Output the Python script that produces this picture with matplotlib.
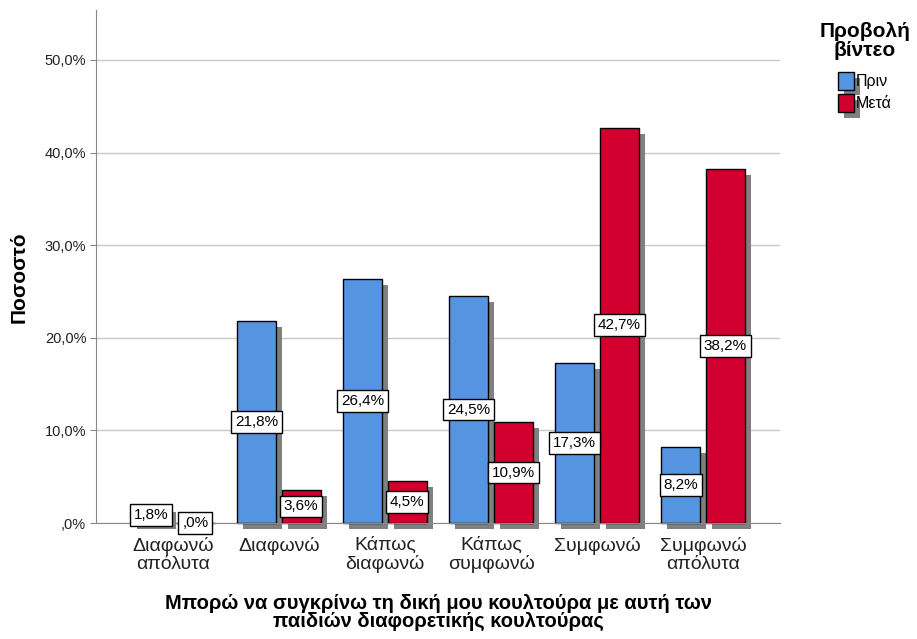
import matplotlib
matplotlib.use("Agg")
import matplotlib.pyplot as plt
import matplotlib.patheffects as pe
import numpy as np

plt.rcParams['font.family'] = ['Liberation Sans', 'DejaVu Sans']

categories = ['Διαφωνώ\nαπόλυτα', 'Διαφωνώ', 'Κάπως\nδιαφωνώ',
              'Κάπως\nσυμφωνώ', 'Συμφωνώ', 'Συμφωνώ\nαπόλυτα']
before = [1.8, 21.8, 26.4, 24.5, 17.3, 8.2]   # Πριν
after = [0.0, 3.6, 4.5, 10.9, 42.7, 38.2]     # Μετά
series_names = ['Πριν', 'Μετά']
colors = ['#5594E0', '#D2002F']

fig = plt.figure(figsize=(9.17, 6.39), dpi=100)
ax = fig.add_axes([0.1047, 0.1815, 0.7459, 0.8029])

x = np.arange(len(categories))
offset = 0.21
width = 0.37

shadow = [pe.SimplePatchShadow(offset=(4.3, -4.3), shadow_rgbFace='#808080', alpha=1.0),
          pe.Normal()]

for vals, off, col, name in zip([before, after], [-offset, offset], colors, series_names):
    bars = ax.bar(x + off, vals, width, color=col, edgecolor='black', linewidth=1,
                  label=name, zorder=3)
    for b, v in zip(bars, vals):
        b.set_path_effects(shadow)
        b.set_clip_on(False)
        ax.text(b.get_x() + b.get_width() / 2, v / 2, f'{v:.1f}%'.replace('.', ',').lstrip('0'),
                ha='center', va='center', fontsize=11, zorder=5,
                bbox=dict(boxstyle='square,pad=0.25', fc='white', ec='black', lw=1))

# άξονες
ax.set_xlim(-0.726, 5.726)
ax.set_ylim(0, 55.4)
ax.set_yticks(np.arange(0, 51, 10))
ax.set_yticklabels([',0%', '10,0%', '20,0%', '30,0%', '40,0%', '50,0%'], fontsize=10.5, color='#222222')
ax.set_xticks(x)
ax.set_xticklabels(categories, fontsize=14, color='#222222', linespacing=1.05)
ax.tick_params(axis='x', length=0, pad=10)
ax.tick_params(axis='y', length=4, color='#888888', pad=3)
ax.yaxis.grid(True, color='#c8c8c8', linewidth=1, zorder=0)
ax.set_axisbelow(True)
for s in ['top', 'right']:
    ax.spines[s].set_visible(False)
for s in ['left', 'bottom']:
    ax.spines[s].set_color('#888888')
    ax.spines[s].set_zorder(4)

ax.set_ylabel('Ποσοστό', fontsize=15, fontweight='bold')
ax.yaxis.set_label_coords(-0.098, 0.48)
ax.set_xlabel('Μπορώ να συγκρίνω τη δική μου κουλτούρα με αυτή των\nπαιδιών διαφορετικής κουλτούρας',
              fontsize=14.5, fontweight='bold', labelpad=15, linespacing=0.95)

leg = ax.legend(title='Προβολή\nβίντεο', loc='upper center', bbox_to_anchor=(0.943, 0.975),
                bbox_transform=fig.transFigure, frameon=False, fontsize=11.5,
                handlelength=1.0, handleheight=1.3, handletextpad=0.15,
                labelspacing=0.3, borderaxespad=0)
leg.get_title().set_fontweight('bold')
leg.get_title().set_fontsize(15)
leg.get_title().set_linespacing(0.95)
leg.get_title().set_multialignment('center')
leg._legend_box.align = 'center'
leg._legend_box.sep = 9

fig.savefig('out.png', dpi=100)
